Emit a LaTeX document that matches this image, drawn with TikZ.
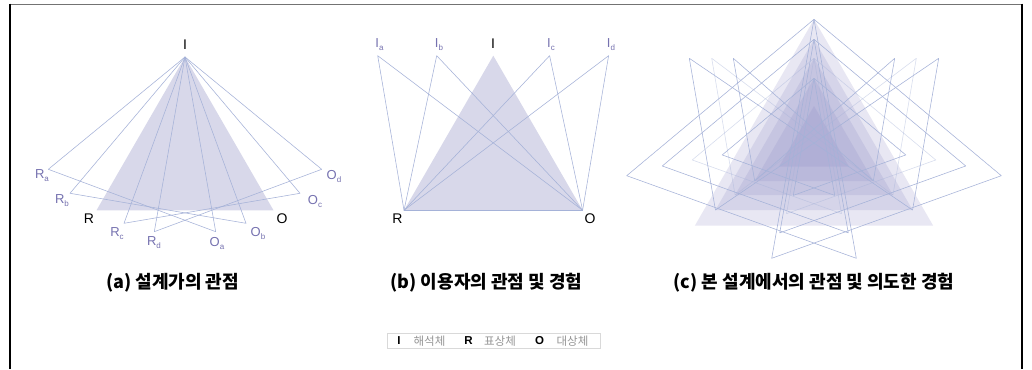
\documentclass[tikz,border=0pt]{standalone}
\usepackage{fontspec}
\usetikzlibrary{calc}
\setmainfont{Liberation Sans}
\newfontfamily\kr{Noto Sans CJK KR}
\definecolor{lnc}{RGB}{165,178,216}
\definecolor{flc}{RGB}{216,216,234}
\definecolor{puc}{RGB}{118,114,176}
\definecolor{fcc}{RGB}{140,138,196}
\definecolor{lgc}{RGB}{150,150,150}
\newcommand{\lsub}[2]{#1\raisebox{-0.45ex}{\fontsize{8}{8}\selectfont #2}}
\begin{document}
\begin{tikzpicture}[x=1pt,y=-1pt,
  lnedge/.style={draw=lnc,line width=0.55pt,line join=round},
  lnfaint/.style={lnedge,draw opacity=0.45},
  blk/.style={font=\fontsize{14}{14}\selectfont,text=black,inner sep=0pt},
  plab/.style={font=\fontsize{13}{13}\selectfont,text=puc,inner sep=0pt},
  captxt/.style={font=\kr\bfseries\fontsize{18}{18}\selectfont,inner sep=0pt},
  trilayer/.style={fill=fcc,fill opacity=0.2},
  legk/.style={font=\bfseries\fontsize{11.5}{12}\selectfont,inner sep=0pt},
  legt/.style={font=\kr\fontsize{11.5}{12}\selectfont,text=lgc,inner sep=0pt}]
\useasboundingbox (0,0) rectangle (1032,369);
\fill[white] (0,0) rectangle (1032,369);
% frame
\draw[black!55,line width=0.8pt] (10,4) -- (1022,4);
\draw[black,line width=1.3pt] (10,3.6) -- (10,369);
\draw[black,line width=1.3pt] (1022,3.6) -- (1022,369);

% ---------------- panel (a)
\coordinate (aI) at (185,57);
\coordinate (aR) at (96.5,210.3);
\coordinate (aO) at (273.5,210.3);
\coordinate (aRa) at (48.3,169.3);
\coordinate (aRb) at (70,193.3);
\coordinate (aRc) at (124,223.3);
\coordinate (aRd) at (154.3,231.7);
\coordinate (aOa) at (215.7,231.7);
\coordinate (aOb) at (246,223.3);
\coordinate (aOc) at (300,193.3);
\coordinate (aOd) at (321.7,169.3);
\fill[flc] (aI) -- (aR) -- (aO) -- cycle;
\draw[lnedge] (aI) -- (aRa) -- (aOa) -- cycle;
\draw[lnedge] (aI) -- (aRb) -- (aOb) -- cycle;
\draw[lnedge] (aI) -- (aRc) -- (aOc) -- cycle;
\draw[lnedge] (aI) -- (aRd) -- (aOd) -- cycle;
\node[blk] (laI) at (185,45) {I};
\node[blk] (laR) at (89,219) {R};
\node[blk] (laO) at (282,219) {O};
\node[plab] (laRa) at (42,175.5) {\lsub{R}{a}};
\node[plab] (laRb) at (62,200.5) {\lsub{R}{b}};
\node[plab] (laRc) at (117,233.5) {\lsub{R}{c}};
\node[plab] (laRd) at (154,242.5) {\lsub{R}{d}};
\node[plab] (laOa) at (217,243.5) {\lsub{O}{a}};
\node[plab] (laOb) at (258,233.5) {\lsub{O}{b}};
\node[plab] (laOc) at (315,201.5) {\lsub{O}{c}};
\node[plab] (laOd) at (334,176.5) {\lsub{O}{d}};

% ---------------- panel (b)
\coordinate (bI) at (493.3,55.7);
\coordinate (bR) at (404,210.3);
\coordinate (bO) at (582.6,210.3);
\coordinate (bIa) at (377.7,55.7);
\coordinate (bIb) at (436.7,55.7);
\coordinate (bIc) at (549.6,55.7);
\coordinate (bId) at (608.6,55.7);
\fill[flc] (bI) -- (bR) -- (bO) -- cycle;
\draw[lnedge] (bR) -- (bO);
\foreach \t in {bIa,bIb,bIc,bId}{
  \draw[lnedge] (bR) -- (\t) -- (bO);
}
\node[blk] (lbI) at (493,44) {I};
\node[blk] (lbR) at (397.5,219) {R};
\node[blk] (lbO) at (590,219) {O};
\node[plab] (lbIa) at (379.5,45) {\lsub{I}{a}};
\node[plab] (lbIb) at (439,45) {\lsub{I}{b}};
\node[plab] (lbIc) at (551,45) {\lsub{I}{c}};
\node[plab] (lbId) at (611,45) {\lsub{I}{d}};

% ---------------- panel (c)
% nested equilateral triangles (apex y, base y)
\foreach \k/\ay/\by in {1/19.3/225.7,2/39.3/210,3/58.3/195,4/78.3/181,5/106/166.7}{
  \pgfmathsetmacro{\hb}{(\by-\ay)*0.57735}
  \coordinate (cA\k) at (814,\ay);
  \coordinate (cBL\k) at ({814-\hb},\by);
  \coordinate (cBR\k) at ({814+\hb},\by);
  \fill[trilayer] (cA\k) -- (cBL\k) -- (cBR\k) -- cycle;
}
% scaled copies of configuration (a)
\foreach \k/\s in {1/1,2/0.81,3/0.65,4/0.49}{
  \coordinate (cL\k) at ($(cA\k)+(-187.3*\s,156.4*\s)$);
  \coordinate (cR\k) at ($(cA\k)+(187.3*\s,156.4*\s)$);
  \coordinate (cQL\k) at ($(cA\k)+(-42.3*\s,239*\s)$);
  \coordinate (cQR\k) at ($(cA\k)+(42.3*\s,239*\s)$);
}
\foreach \k in {1,2,4}{
  \draw[lnedge] (cA\k) -- (cL\k) -- (cQR\k) -- cycle;
  \draw[lnedge] (cA\k) -- (cR\k) -- (cQL\k) -- cycle;
}
\draw[lnfaint] (cA3) -- (cL3) -- (cQR3) -- cycle;
\draw[lnfaint] (cA3) -- (cR3) -- (cQL3) -- cycle;
% copies of configuration (b)
\coordinate (cT1) at (689.3,58.3);
\coordinate (cT2) at (711.7,58.3);
\coordinate (cT3) at (733.3,58.3);
\coordinate (cU1) at (938.7,58.3);
\coordinate (cU2) at (916.3,58.3);
\coordinate (cU3) at (894.7,58.3);
\draw[lnedge] (cBL2) -- (cT1) -- (cBR2) -- (cU1) -- cycle;
\draw[lnfaint] (cBL3) -- (cT2) -- (cBR3) -- (cU2) -- cycle;
\draw[lnedge] (cBL4) -- (cT3) -- (cBR4) -- (cU3) -- cycle;

% ---------------- captions
\node[captxt] (capa) at (172.5,283) {(a) 설계가의 관점};
\node[captxt] (capb) at (486.5,283) {(b) 이용자의 관점 및 경험};
\node[captxt] (capc) at (814,283) {(c) 본 설계에서의 관점 및 의도한 경험};

% ---------------- legend
\node[draw=black!15,line width=0.6pt,minimum width=213.5pt,minimum height=15pt,inner sep=0pt] (leg) at (494,340.8) {};
\node[legk] (lgI) at (399,340.8) {I};
\node[legt] (lgIt) at (429.5,340.8) {해석체};
\node[legk] (lgR) at (468.5,340.8) {R};
\node[legt] (lgRt) at (500,340.8) {표상체};
\node[legk] (lgO) at (539.5,340.8) {O};
\node[legt] (lgOt) at (572.5,340.8) {대상체};
\end{tikzpicture}
\end{document}
